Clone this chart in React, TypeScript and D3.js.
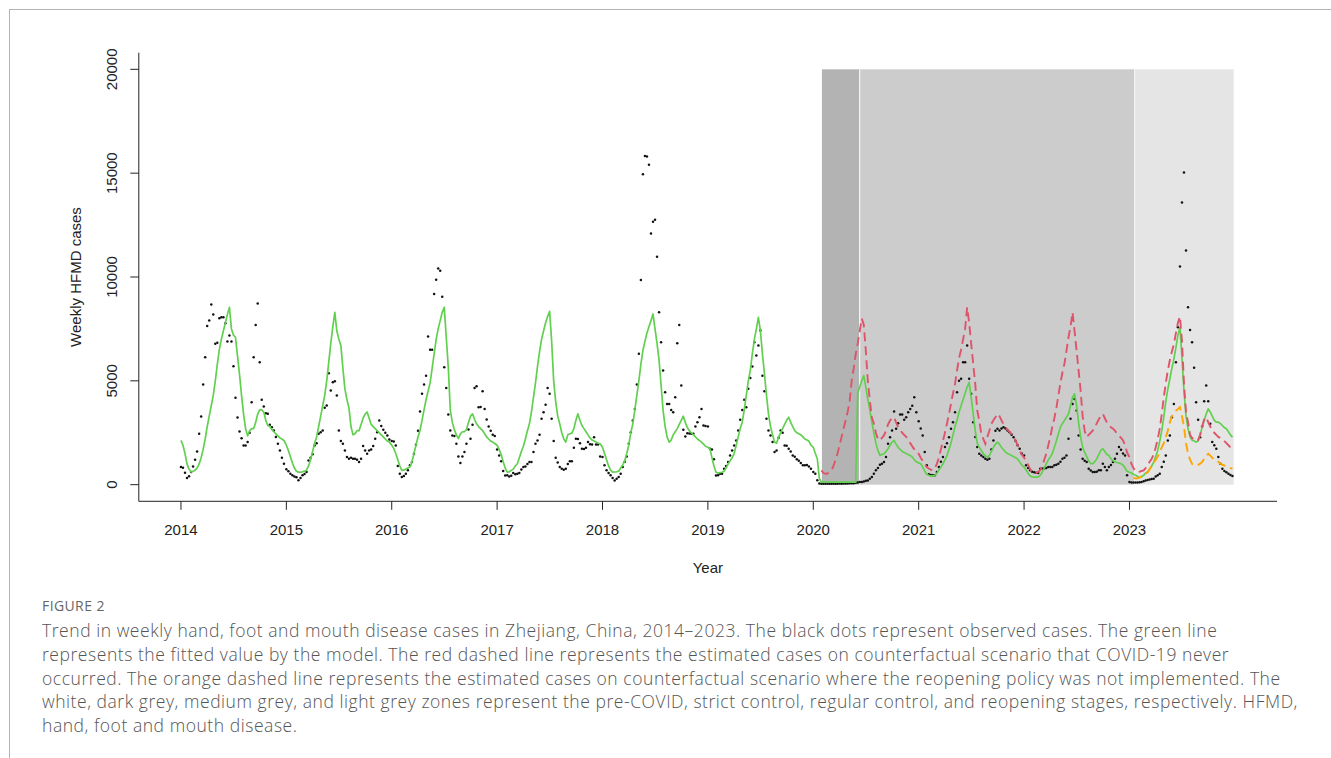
import React from 'react'
import * as d3 from 'd3'

// weekly HFMD cases, Zhejiang, one array per year (52 weeks each)
const years = [2014, 2015, 2016, 2017, 2018, 2019, 2020, 2021, 2022, 2023]

const obs2014 = [850,820,580,320,410,610,880,1200,1600,2450,3280,4820,6140,7640,7900,8670,8190,6780,6830,8010,8060,8060,7770,6900,7180,6900,5700,4180,3240,2560,2240,1890,1890,2050,2500,3970,6140,7690,8730,5900,4090,3760,3440,3410,2880,2770,2610,2300,1970,1650,1300,1010]
const obs2015 = [740,650,530,450,400,360,210,320,450,520,610,1170,1300,1460,1890,2000,2450,2530,2610,3700,3810,5370,4530,4930,4980,4290,2610,2100,1970,1650,1330,1250,1300,1250,1250,1200,1090,1250,1860,1650,1490,1650,1700,1860,2210,2530,3090,2820,2640,2500,2370,2180]
const obs2016 = [2100,2080,1890,900,530,365,420,530,700,930,1090,1490,1920,2600,3520,4375,4820,5250,7130,6500,6500,9180,9870,10410,10300,9050,5650,4660,3380,2610,2370,2340,1970,1360,1040,1360,1570,1970,2660,2210,2880,4650,4740,3730,3740,4500,3650,3140,2800,2600,2400,2350]
const obs2017 = [1700,1400,1130,654,447,450,400,430,560,500,530,560,736,846,870,1000,1090,1090,1570,1970,2130,2400,3170,3490,3850,4650,4375,3170,2100,1300,1070,846,770,720,770,1000,1130,1130,1780,2210,2200,2000,1730,1720,1780,2050,1950,1940,2290,1940,1940,1360]
const obs2018 = [1330,930,690,560,450,317,207,290,365,530,846,1100,1360,1970,2530,3090,3650,4820,6300,9860,14950,15830,15800,15400,12100,12660,12760,10980,8300,6860,5500,4450,3890,3880,3600,3490,4210,6810,7690,4770,2640,2320,2480,2460,2450,2450,2800,3010,3250,3650,2850,2830]
const obs2019 = [2800,1730,1700,1220,447,450,530,530,770,900,1090,1410,1650,1890,2130,2610,3130,3600,4090,3730,4620,5140,5690,6860,6220,6700,7420,5250,4500,3170,2610,2370,2050,1570,1650,2260,2610,2500,1890,1870,1730,1600,1410,1350,1220,1150,1040,930,940,950,880,770]
const obs2020 = [606,530,210,60,50,45,50,40,45,50,40,45,50,55,50,60,55,60,65,70,75,90,110,125,125,150,190,207,290,365,530,690,800,960,1010,1090,1330,1970,2290,2610,3520,2690,2960,3380,3380,3130,3250,3490,3650,3800,4210,3490]
const obs2021 = [3060,2700,2370,1570,930,500,470,450,460,606,846,1100,1330,1810,2000,2290,2690,3010,3490,4450,5010,5100,5900,5900,6700,5100,4375,3010,2300,1810,1490,1400,1330,1250,1200,1250,1700,2130,2600,2690,2610,2700,2770,2700,2610,2530,2400,2290,2100,1900,1730,1500]
const obs2022 = [1410,930,800,690,620,600,570,560,770,780,780,800,846,850,850,930,960,1010,1100,1250,1300,1410,2210,3170,3890,4130,3570,2370,1700,1250,1150,1090,770,680,606,606,620,690,700,1010,850,690,846,950,1090,1250,1490,1810,1680,1500,1410,450]
const obs2023 = [125,110,100,100,110,120,130,160,207,230,250,270,290,400,450,530,846,1100,1410,2130,2370,3250,3890,5900,7580,10500,13590,15030,11270,8540,7450,6860,5630,3970,3130,2290,2800,4020,4770,4020,2930,2050,1900,1730,1330,1010,770,654,600,530,470,414]

// fitted values (green line)
const fit2014 = [2130,1900,1500,1000,750,606,650,700,800,1000,1300,1700,2200,2800,3300,3800,4300,5000,5800,6500,7000,7400,7800,8200,8540,7500,7200,7100,6200,5300,4300,3400,2700,2350,2600,2700,2700,3000,3400,3600,3600,3500,3100,2850,2800,2650,2550,2450,2350,2250,2200,2130]
const fit2015 = [1900,1650,1350,1050,800,650,600,600,620,650,700,900,1200,1600,2000,2300,2800,3300,3800,4300,5000,5900,6800,7600,8300,7400,7000,6700,5600,4600,4100,3700,2800,2400,2450,2600,2600,2900,3200,3400,3500,3200,2900,2800,2700,2600,2500,2400,2300,2200,2100,2050]
const fit2016 = [1900,1750,1500,1200,900,690,700,750,800,850,1100,1500,1900,2300,2610,3100,3600,4100,4500,4900,5600,6300,7000,7500,7900,8300,8540,7100,5650,3600,3000,2650,2400,2220,2450,2550,2550,2650,3000,3300,3410,3150,2930,2800,2700,2610,2450,2300,2200,2100,2050,1980]
const fit2017 = [1900,1700,1450,1100,800,606,620,690,750,900,1010,1300,1600,1850,2200,2600,2930,3500,4200,4900,5700,6400,7000,7400,7800,8100,8350,6900,5000,4000,3300,2930,2500,2200,2050,2400,2450,2480,2700,3100,3410,3100,2850,2700,2550,2400,2250,2150,2100,2050,2000,1970]
const fit2018 = [1800,1500,1200,900,700,606,610,620,650,800,950,1150,1500,1900,2500,2930,3600,4300,5000,5800,6460,6900,7300,7600,7900,8220,7500,6800,6000,4800,3570,2800,2290,2050,2150,2400,2550,2700,2900,3100,3300,3000,2750,2600,2500,2400,2300,2200,2130,2050,1950,1850]
const fit2019 = [1800,1730,1300,900,600,560,580,600,650,800,1000,1150,1300,1500,1900,2300,2700,3000,3600,4300,5000,5500,6300,7000,7500,8060,7400,6300,5340,4300,3400,2800,2400,2050,2000,2300,2500,2700,2900,3100,3250,3000,2800,2600,2500,2450,2400,2300,2200,2150,2100,1900]
const fit2020 = [1800,1500,1250,300,120,120,120,120,120,120,120,120,120,120,120,120,120,120,120,120,120,120,4400,4700,5000,5250,4700,4100,3600,3000,2500,2000,1650,1410,1450,1490,1600,1730,1900,2050,2130,1950,1800,1700,1600,1550,1500,1450,1400,1330,1200,1100]
const fit2021 = [1050,1010,850,650,500,450,420,430,450,550,700,850,1000,1200,1400,1700,2000,2400,2800,3100,3500,3800,4100,4400,4700,4930,4200,3400,2600,2000,1800,1650,1500,1400,1330,1400,1600,1800,1950,2050,1950,1800,1680,1570,1500,1450,1400,1350,1300,1230,1100,950]
const fit2022 = [850,700,550,420,370,360,360,370,450,600,800,1000,1200,1330,1500,1800,2100,2450,2770,2950,3090,3250,3410,3800,4200,4375,3800,3000,2300,1800,1550,1350,1150,1010,1010,1100,1250,1450,1650,1730,1600,1450,1410,1250,1150,1100,1070,1050,1010,950,800,650]
const fit2023 = [600,560,500,450,400,340,380,450,560,606,750,900,1090,1350,1650,2100,2600,3250,4000,4600,5100,5600,6060,6600,7200,7580,6100,4500,3300,2700,2300,2150,2100,2050,2100,2400,2770,3090,3400,3650,3500,3300,3100,3010,3010,2950,2850,2750,2690,2550,2400,2290]

// counterfactual: COVID-19 never occurred (red dashed)
const noCovid2020 = [null,null,null,null,690,560,530,540,600,690,900,1200,1500,1900,2290,2700,3100,3500,4000,5000,5600,6300,6800,7400,8000,7700,6460,5000,4050,3250,2930,2500,2200,2130,2250,2370,2600,2900,3090,3200,3250,3000,2770,2650,2500,2400,2300,2130,2000,1850,1700,1550]
const noCovid2021 = [1490,1300,1150,1000,846,780,720,690,800,1000,1300,1700,2100,2500,2930,3400,3900,4400,4860,5500,6100,6500,7000,7500,8540,7800,6780,5820,4860,3570,3090,2450,2210,1970,2300,2600,2930,3100,3250,3410,3300,3100,2900,2770,2650,2550,2450,2300,2130,1900,1650,1450]
const noCovid2022 = [1300,1170,950,750,606,530,560,620,690,900,1200,1500,1900,2300,2800,3200,3700,4300,4900,5400,5820,6460,7100,7600,8300,7400,6460,5500,4530,3300,2600,2290,2400,2500,2600,2770,2950,3150,3300,3410,3200,3000,2850,2770,2700,2600,2450,2350,2250,2130,1900,1550]
const noCovid2023 = [1330,1000,800,650,606,620,660,690,800,950,1100,1250,1450,1800,2200,2700,3400,4200,4900,5500,6000,6400,6780,7300,7800,8100,6900,4860,3500,3000,2400,2250,2150,2100,2150,2400,2800,3150,3250,3000,2800,2600,2500,2400,2300,2250,2200,2100,2000,1900,1800,1730]

// counterfactual: reopening policy not implemented (orange dashed)
const noReopen2023 = [null,null,330,300,310,350,400,450,500,600,750,900,1050,1200,1350,1550,1800,2000,2300,2600,3000,3300,3450,3550,3650,3730,3300,2800,2000,1500,1200,1000,930,930,960,1010,1100,1250,1400,1490,1400,1300,1200,1150,1100,1010,960,930,880,840,800,770]

// stage zones: strict control, regular control, reopening
const zoneBreaks = ['2020-01-31', '2020-06-10', '2023-01-19', '2023-12-28']
const zoneFills = ['#b3b3b3', '#cccccc', '#e5e5e5']

const yTicks = [0, 5000, 10000, 15000, 20000]
const xTicks = years

const captionLines = [
  'Trend in weekly hand, foot and mouth disease cases in Zhejiang, China, 2014\u20132023. The black dots represent observed cases. The green line',
  'represents the fitted value by the model. The red dashed line represents the estimated cases on counterfactual scenario that COVID-19 never',
  'occurred. The orange dashed line represents the estimated cases on counterfactual scenario where the reopening policy was not implemented. The',
  'white, dark grey, medium grey, and light grey zones represent the pre-COVID, strict control, regular control, and reopening stages, respectively. HFMD,',
  'hand, foot and mouth disease.',
]

const observed = [obs2014, obs2015, obs2016, obs2017, obs2018, obs2019, obs2020, obs2021, obs2022, obs2023]
const fitted = [fit2014, fit2015, fit2016, fit2017, fit2018, fit2019, fit2020, fit2021, fit2022, fit2023]
const noCovid = [noCovid2020, noCovid2021, noCovid2022, noCovid2023]

type Pt = [number, number | null]

const tOf = (yr: number, w: number) => yr + (w * 7) / 365.25
const decYear = (s: string) => {
  const d = new Date(s + 'T00:00:00Z')
  const yr = d.getUTCFullYear()
  const a = Date.UTC(yr, 0, 1)
  const b = Date.UTC(yr + 1, 0, 1)
  return yr + (d.getTime() - a) / (b - a)
}
const toPts = (startYear: number, arrs: (number | null)[][]): Pt[] =>
  arrs.flatMap((arr, i) => arr.map((v, w) => [tOf(startYear + i, w), v] as Pt))

const axisFont = '"Liberation Sans", Arial, Helvetica, sans-serif'
const captionFont = '"Open Sans", "Noto Sans", sans-serif'

export default function App() {
  const W = 1331
  const H = 758
  const left = 138.8
  const right = 1277
  const top = 52.7
  const bottom = 501.3

  const x = d3.scaleLinear().domain([2013.6, 2024.4]).range([left, right])
  const y = d3.scaleLinear().domain([-800, 20800]).range([bottom, top])

  const line = d3
    .line<Pt>()
    .defined((d) => d[1] != null)
    .x((d) => x(d[0]))
    .y((d) => y(d[1] as number))

  const dots = toPts(2014, observed)
  const fitPts = toPts(2014, fitted)
  const redPts = toPts(2020, noCovid)
  const orangePts = toPts(2023, [noReopen2023])
  const zb = zoneBreaks.map(decYear)

  return (
    <svg
      width={W}
      height={H}
      style={{ position: 'absolute', left: 0, top: 0, background: '#fff' }}
    >
      {/* page frame */}
      <line x1={9} x2={W} y1={9.5} y2={9.5} stroke="#b4b4b4" strokeWidth={1} />
      <line x1={9.5} x2={9.5} y1={9} y2={H} stroke="#b4b4b4" strokeWidth={1} />

      {/* stage zones */}
      {zoneFills.map((fill, i) => (
        <rect
          key={i}
          x={x(zb[i])}
          y={y(20000)}
          width={x(zb[i + 1]) - x(zb[i])}
          height={y(0) - y(20000)}
          fill={fill}
        />
      ))}
      {[1, 2].map((i) => (
        <line
          key={i}
          x1={x(zb[i])}
          x2={x(zb[i])}
          y1={y(20000)}
          y2={y(0)}
          stroke="#f4f4f4"
          strokeWidth={1.2}
        />
      ))}

      {/* observed */}
      {dots.map((d, i) => (
        <circle key={i} cx={x(d[0])} cy={y(d[1] as number)} r={1.25} fill="#111" />
      ))}

      {/* fitted + counterfactuals */}
      <path d={line(fitPts) || ''} fill="none" stroke="#61D04F" strokeWidth={1.7} strokeLinejoin="round" />
      <path d={line(redPts) || ''} fill="none" stroke="#DF536B" strokeWidth={1.9} strokeDasharray="9,5" />
      <path d={line(orangePts) || ''} fill="none" stroke="#FFA500" strokeWidth={1.9} strokeDasharray="9,5" />

      {/* axes box (L) */}
      <path d={`M${left},${top}V${bottom}H${right}`} fill="none" stroke="#222" strokeWidth={1} />

      {yTicks.map((t) => (
        <g key={t}>
          <line x1={left - 8.5} x2={left} y1={y(t)} y2={y(t)} stroke="#222" />
          <text
            transform={`translate(117,${y(t)}) rotate(-90)`}
            textAnchor="middle"
            fontFamily={axisFont}
            fontSize={15}
            fill="#222"
          >
            {t}
          </text>
        </g>
      ))}
      {xTicks.map((t) => (
        <g key={t}>
          <line x1={x(t)} x2={x(t)} y1={bottom} y2={bottom + 8.5} stroke="#222" />
          <text x={x(t)} y={534.5} textAnchor="middle" fontFamily={axisFont} fontSize={15} fill="#222">
            {t}
          </text>
        </g>
      ))}
      <text x={(left + right) / 2} y={572.5} textAnchor="middle" fontFamily={axisFont} fontSize={15} fill="#222">
        Year
      </text>
      <text
        transform={`translate(80.5,${(top + bottom) / 2}) rotate(-90)`}
        textAnchor="middle"
        fontFamily={axisFont}
        fontSize={15}
        fill="#222"
      >
        Weekly HFMD cases
      </text>

      {/* caption */}
      <text x={42} y={611} fontFamily={captionFont} fontSize={14} letterSpacing={0.4} fill="#666">
        FIGURE 2
      </text>
      {captionLines.map((s, i) => (
        <text
          key={i}
          x={42}
          y={637 + i * 23.8}
          fontFamily={captionFont}
          fontWeight={300}
          fontSize={17.5}
          letterSpacing={0.55}
          fill="#555"
        >
          {s}
        </text>
      ))}
    </svg>
  )
}
